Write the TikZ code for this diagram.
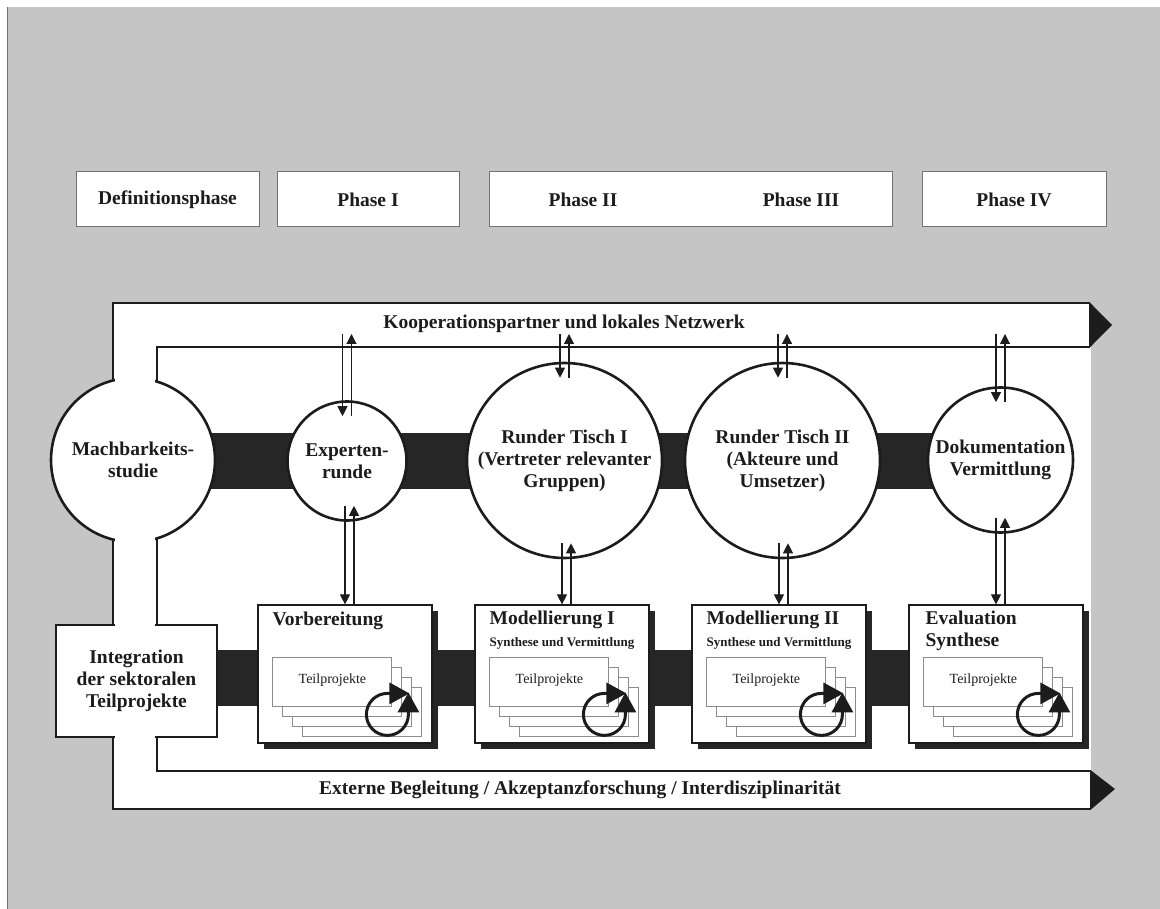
\documentclass[tikz,border=0pt]{standalone}
\usepackage{fontspec}
\setmainfont{Liberation Serif}
\usepackage{tikz}
\usetikzlibrary{arrows.meta, calc, shadows}
\definecolor{bggray}{RGB}{197,197,197}
\definecolor{bardark}{RGB}{38,38,38}
\definecolor{inkgray}{RGB}{28,28,28}

\begin{document}
\begin{tikzpicture}[
    x=1pt, y=-1pt,
    >={Triangle[length=10pt, width=10pt]},
    txt/.style={font=\fontsize{19.5}{22}\selectfont\bfseries, text=inkgray, align=center, inner sep=0pt},
    subtxt/.style={font=\fontsize{13}{15}\selectfont\bfseries, text=inkgray, inner sep=0pt},
    teiltxt/.style={font=\fontsize{14}{16}\selectfont, text=inkgray, inner sep=0pt},
    phasebox/.style={draw=black!55, line width=1pt, fill=white, minimum height=55pt, inner sep=0pt},
    rund/.style={circle, draw=inkgray, line width=2.6pt, fill=white, txt},
    kasten/.style={draw=inkgray, line width=2.6pt, fill=white, txt},
    modbox/.style={draw=inkgray, line width=1.2pt, fill=white, minimum width=174pt, minimum height=138pt, inner sep=0pt,
        drop shadow={shadow xshift=6pt, shadow yshift=-6pt, fill=bardark, opacity=1}},
    frame/.style={line width=2.6pt, draw=inkgray},
    page/.style={draw=black!45, fill=white, line width=0.8pt},
    cyc/.style={line width=3pt, draw=inkgray, {Triangle[length=20pt, width=21pt]}-{Triangle[length=20pt, width=21pt]}},
    arr/.style={->, line width=1.1pt, draw=inkgray},
]
    \useasboundingbox (0,0) rectangle (1160,909);
    \fill[white] (0,0) rectangle (1160,909);
    \fill[bggray] (7,7) rectangle (1160,909);
    \draw[black!55, line width=1pt] (7,7) -- (7,909);

    % Phasen
    \node[phasebox, txt, minimum width=183pt] (defph) at (167.5,199.5) {Definitionsphase};
    \node[phasebox, txt, minimum width=182pt] (ph1) at (368,199.5) {Phase I};
    \node[phasebox, minimum width=403pt] (ph23) at (690.5,199.5) {};
    \node[txt] (ph2) at (583,199.5) {Phase II};
    \node[txt] (ph3) at (801,199.5) {Phase III};
    \node[phasebox, txt, minimum width=184pt] (ph4) at (1014,199.5) {Phase IV};

    % Rahmen
    \fill[white] (113,303) rectangle (1091,809);
    \fill[bardark] (200,433) rectangle (950,489);
    \fill[bardark] (210,650) rectangle (950,706);
    \draw[frame] (1089,303) -- (113,303) -- (113,809) -- (1090,809);
    \draw[frame] (1090,347) -- (157,347) -- (157,771) -- (1090,771);
    \fill[inkgray] (1089,301.7) -- (1112,325) -- (1089,348.3) -- cycle;
    \fill[inkgray] (1090,769.7) -- (1115,789) -- (1090,810.3) -- cycle;
    \node[txt] (koop) at (564,324) {Kooperationspartner und lokales Netzwerk};
    \node[txt] (extern) at (580,790) {Externe Begleitung / Akzeptanzforschung / Interdisziplinarität};

    \node[rund, minimum size=164pt] (mach) at (133,460) {Machbarkeits-\\studie};
    \fill[white] (114.6,360) rectangle (155.4,396);
    \fill[white] (114.6,524) rectangle (155.4,560);
    \node[kasten, minimum width=161pt, minimum height=112pt] (integ) at (136.5,681) {Integration\\der sektoralen\\Teilprojekte};
    \fill[white] (114.6,620) rectangle (155.4,630);
    \fill[white] (114.6,732) rectangle (155.4,742);

    % Runde Tische
    \node[rund, minimum size=119pt] (expert) at (347,461) {Experten-\\runde};
    \node[rund, minimum size=195pt] (rt1) at (564.5,460.5) {Runder Tisch I\\(Vertreter relevanter\\Gruppen)};
    \node[rund, minimum size=195pt] (rt2) at (782.5,460.5) {Runder Tisch II\\(Akteure und\\Umsetzer)};
    \node[rund, minimum size=145pt] (doku) at (1000.5,460) {Dokumentation\\Vermittlung};

    % Teilprojekte
    \node[modbox] (vorb) at (345,674) {};
    \node[modbox] (mod1) at (562,674) {};
    \node[modbox] (mod2) at (779,674) {};
    \node[modbox] (eval) at (996,674) {};
    \node[txt, anchor=west] (vorbt) at ($(vorb.north west)+(15,16)$) {Vorbereitung};
    \node[txt, anchor=west] (mod1t) at ($(mod1.north west)+(15,15)$) {Modellierung I};
    \node[subtxt, anchor=west] (mod1s) at ($(mod1.north west)+(15,39)$) {Synthese und Vermittlung};
    \node[txt, anchor=west] (mod2t) at ($(mod2.north west)+(15,15)$) {Modellierung II};
    \node[subtxt, anchor=west] (mod2s) at ($(mod2.north west)+(15,39)$) {Synthese und Vermittlung};
    \node[txt, anchor=west, align=left] (evalt) at ($(eval.north west)+(17,26)$) {Evaluation\\Synthese};

    \foreach \bx in {vorb, mod1, mod2, eval}{
        \foreach \i in {3,2,1,0}
            \draw[page] ($(\bx.north west)+(15+10*\i,53+10*\i)$) rectangle ++(119,49);
        \node[teiltxt] (\bx-tp) at ($(\bx.north west)+(75,76)$) {Teilprojekte};
        \draw[cyc] ($(\bx.north west)+(152,89)$) -- ++(-22,0) arc[start angle=90, end angle=360, radius=21pt] -- ++(0,-22);
    }

    % Pfeile
    \coordinate (kt) at (0,334);
    \foreach \cn in {expert, rt1, rt2, doku}{
        \draw[arr] ($(\cn.north |- kt)+(-4.5,0)$) -- ($(\cn.north)+(-4.5,16)$);
        \draw[arr] ($(\cn.north)+(4.5,16)$) -- ($(\cn.north |- kt)+(4.5,0)$);
    }
    \foreach \cn/\bx in {expert/vorb, rt1/mod1, rt2/mod2, doku/eval}{
        \draw[arr] ($(\bx.north |- \cn.south)+(0,-16)$) -- (\bx.north);
        \draw[arr] ($(\bx.north)+(9,0)$) -- ($(\bx.north |- \cn.south)+(9,-16)$);
    }
\end{tikzpicture}
\end{document}
